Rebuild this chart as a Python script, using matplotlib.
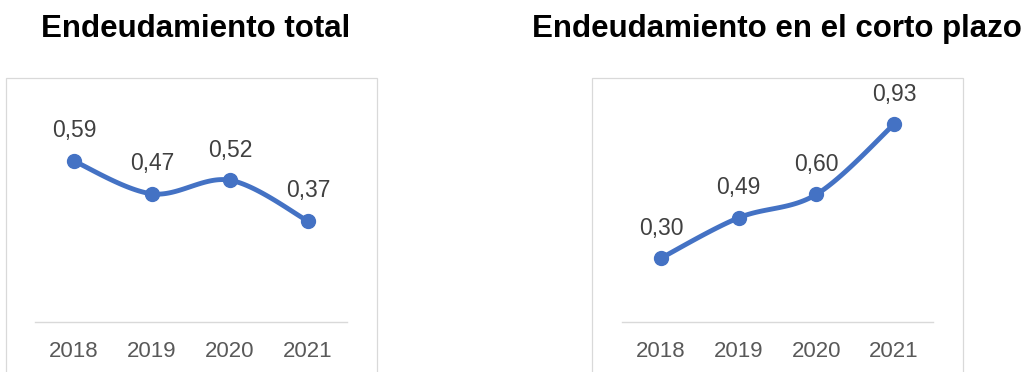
import numpy as np
import matplotlib
matplotlib.use("Agg")
import matplotlib.pyplot as plt
from matplotlib.patches import Rectangle

# Data
years = ["2018", "2019", "2020", "2021"]
endeudamiento_total = [0.59, 0.47, 0.52, 0.37]
endeudamiento_corto_plazo = [0.30, 0.49, 0.60, 0.93]
titles = ["Endeudamiento total", "Endeudamiento en el corto plazo"]

LINE_COLOR = "#4472C4"
GRID_GRAY = "#D9D9D9"
TICK_COLOR = "#595959"
LABEL_COLOR = "#404040"
FONT = ["Liberation Sans", "DejaVu Sans"]

plt.rcParams["font.family"] = FONT

W, H = 1033, 372
fig = plt.figure(figsize=(W / 100, H / 100), dpi=100)


def smooth_curve(ax, xs, ys, n=40):
    """Bezier smoothing (Catmull-Rom style) computed in display space."""
    pts = ax.transData.transform(np.column_stack([xs, ys]))
    p = np.vstack([pts[0], pts, pts[-1]])
    out = []
    for i in range(1, len(p) - 2):
        p0, p1, p2, p3 = p[i - 1], p[i], p[i + 1], p[i + 2]
        c1 = p1 + (p2 - p0) / 6.0
        c2 = p2 - (p3 - p1) / 6.0
        t = np.linspace(0, 1, n)[:, None]
        seg = ((1 - t) ** 3) * p1 + 3 * ((1 - t) ** 2) * t * c1 \
            + 3 * (1 - t) * t ** 2 * c2 + t ** 3 * p2
        out.append(seg if i == 1 else seg[1:])
    curve = np.vstack(out)
    return ax.transData.inverted().transform(curve)


def panel(left_px, right_px, ymax, values, title, title_x, box_x0, box_x1):
    bottom_px, top_px = 322, 100
    ax = fig.add_axes([left_px / W, (H - bottom_px) / H,
                       (right_px - left_px) / W, (bottom_px - top_px) / H])
    ax.set_xlim(-0.5, len(years) - 0.5)
    ax.set_ylim(0, ymax)
    x = np.arange(len(years))

    curve = smooth_curve(ax, x, values)
    ax.plot(curve[:, 0], curve[:, 1], color=LINE_COLOR, lw=3.5,
            solid_capstyle="round", clip_on=False, zorder=3)
    ax.plot(x, values, "o", color=LINE_COLOR, ms=10, clip_on=False, zorder=4)

    for xi, v in zip(x, values):
        ax.annotate(f"{v:.2f}".replace(".", ","), (xi, v),
                    xytext=(0, 17), textcoords="offset points",
                    ha="center", va="baseline", fontsize=16.5,
                    color=LABEL_COLOR, annotation_clip=False)

    for s in ["top", "left", "right"]:
        ax.spines[s].set_visible(False)
    ax.spines["bottom"].set_color(GRID_GRAY)
    ax.spines["bottom"].set_linewidth(1.0)
    ax.set_yticks([])
    ax.set_xticks(x)
    ax.set_xticklabels(years)
    ax.tick_params(axis="x", length=0, pad=13.5, labelsize=16, labelcolor=TICK_COLOR)
    ax.patch.set_alpha(0)

    fig.patches.append(Rectangle((box_x0 / W, -0.1), (box_x1 - box_x0) / W,
                                 (H - 78) / H + 0.1, transform=fig.transFigure,
                                 facecolor="none", edgecolor=GRID_GRAY, lw=0.9))
    fig.text(title_x / W, (H - 37) / H, title, ha="center", va="baseline",
             fontsize=22.5, fontweight="bold", color="black")


panel(35, 347, 222 / 272.7, endeudamiento_total, titles[0], 195.5, 6, 377)
panel(622, 933, 222 / 212.7, endeudamiento_corto_plazo, titles[1], 776.5, 592, 963)

fig.savefig("out.png", dpi=100)
